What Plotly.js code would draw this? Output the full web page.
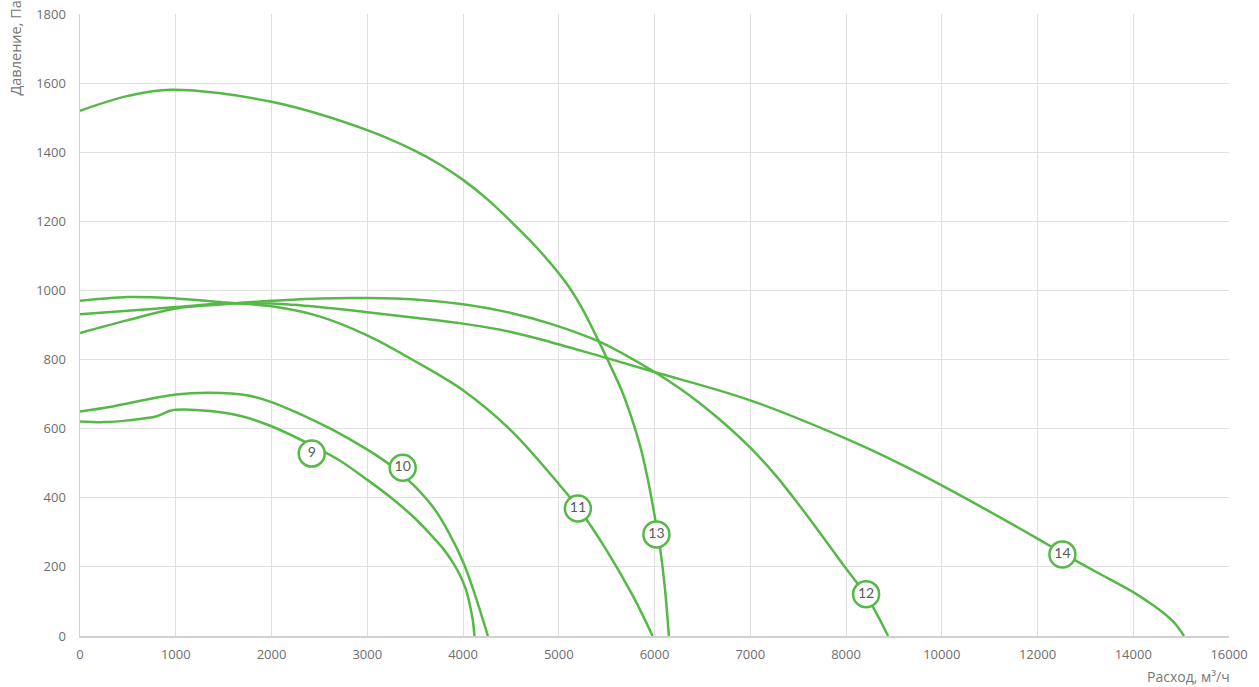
<!DOCTYPE html>
<html>
<head>
<meta charset="utf-8">
<script src="https://cdn.plot.ly/plotly-3.0.1.min.js"></script>
<style>html,body{margin:0;padding:0;background:#fff;}#chart{width:1259px;height:687px;}</style>
</head>
<body>
<div id="chart"></div>
<script>
// Flow, m³/h and pressure, Pa for each curve
const flow9   = [0, 250, 500, 800, 940, 1000, 1360, 1700, 2000, 2420, 2700, 3000, 3250, 3500, 3700, 3800, 3900, 3970, 4030, 4070, 4100, 4120];
const press9  = [621, 619, 624, 636, 652, 655, 651, 635, 607, 552, 510, 452, 400, 340, 282, 250, 210, 175, 135, 92, 50, 0];
const flow10  = [0, 310, 1000, 1360, 1740, 2000, 2300, 2600, 2900, 3100, 3300, 3500, 3700, 3850, 4000, 4100, 4180, 4260];
const press10 = [650, 663, 699, 704, 697, 677, 642, 602, 556, 522, 482, 432, 368, 300, 215, 140, 72, 0];
const flow11  = [0, 500, 1000, 1530, 2000, 2500, 3000, 3500, 4000, 4500, 5000, 5200, 5500, 5780, 5980];
const press11 = [970, 981, 977, 965, 954, 925, 870, 795, 711, 595, 440, 372, 248, 113, 0];
const flow12  = [0, 500, 1000, 1500, 2000, 2500, 3000, 3500, 4000, 4500, 4910, 5430, 6000, 6250, 6500, 6750, 7000, 7250, 7500, 7750, 8000, 8420, 8650, 8880];
const press12 = [877, 914, 948, 960, 970, 977, 978, 974, 960, 935, 904, 851, 764, 719, 668, 610, 545, 470, 383, 290, 195, 118, 62, 0];
const flow13  = [0, 500, 950, 2000, 3000, 3500, 3750, 4000, 4250, 4500, 4750, 5000, 5120, 5250, 5430, 5500, 5655, 5750, 5850, 5925, 6000, 6060, 6110, 6150];
const press13 = [1520, 1563, 1581, 1546, 1464, 1404, 1366, 1320, 1265, 1200, 1130, 1050, 1005, 945, 846, 805, 712, 640, 550, 460, 350, 250, 135, 0];
const flow14  = [0, 500, 1000, 1500, 2000, 2500, 3000, 3500, 4000, 4500, 4910, 5430, 6000, 7000, 8000, 9120, 10000, 12000, 12520, 13220, 14000, 14300, 14620, 14860, 15060];
const press14 = [931, 941, 952, 962, 962, 952, 937, 921, 904, 880, 851, 810, 764, 682, 571, 499, 436, 282, 240, 186, 127, 100, 68, 38, 0];

// Curve labels
const labelText  = ["9", "10", "11", "12", "13", "14"];
const labelFlow  = [2420, 3370, 5200, 8420, 6020, 12520];
const labelPress = [528, 487, 369, 121, 294, 236];

// Axis ticks
const tickFlow   = [0, 1000, 2000, 3000, 4000, 5000, 6000, 7000, 8000, 10000, 12000, 14000, 16000];
const tickLabels = ["0", "1000", "2000", "3000", "4000", "5000", "6000", "7000", "8000", "10000", "12000", "14000", "16000"];
const yTicks     = [0, 200, 400, 600, 800, 1000, 1200, 1400, 1600, 1800];

// Axis is linear to 8000, then each grid step is 2000
function toAxis(q) { return q <= 8000 ? q / 1000 : 8 + (q - 8000) / 2000; }

const green = "#56b847";
const series = [[flow9, press9], [flow10, press10], [flow11, press11], [flow12, press12], [flow13, press13], [flow14, press14]];
const traces = series.map(s => ({
  x: s[0].map(toAxis), y: s[1], type: "scatter", mode: "lines",
  line: { color: green, width: 2.5, shape: "spline", smoothing: 1 },
  hoverinfo: "skip", showlegend: false
}));
traces.push({
  x: labelFlow.map(toAxis), y: labelPress, text: labelText, type: "scatter", mode: "markers+text",
  textposition: "middle center",
  textfont: { family: "Lato, 'Open Sans', sans-serif", size: 14, color: "#5a5a5a" },
  marker: { size: 26, color: "#ffffff", line: { color: green, width: 2.5 } },
  hoverinfo: "skip", showlegend: false, cliponaxis: false
});

const layout = {
  width: 1259, height: 687,
  margin: { l: 80, r: 30, t: 14, b: 51 },
  paper_bgcolor: "#fff", plot_bgcolor: "#fff",
  font: { family: "'Open Sans', sans-serif", color: "#6e6e6e", size: 13 },
  xaxis: {
    range: [0, 12], tickvals: tickFlow.map(toAxis), ticktext: tickLabels,
    showgrid: true, gridcolor: "#e0e0e0", gridwidth: 1, zeroline: false,
    showline: true, linecolor: "#d0d0d0", linewidth: 1.5, ticks: "", ticklabelstandoff: 6,
    tickfont: { size: 13, color: "#6e6e6e" }, fixedrange: true
  },
  yaxis: {
    range: [0, 1800], tickvals: yTicks,
    showgrid: true, gridcolor: "#e0e0e0", gridwidth: 1, zeroline: false,
    showline: true, linecolor: "#d0d0d0", linewidth: 1.5, ticks: "", ticklabelstandoff: 10,
    tickfont: { size: 13, color: "#6e6e6e" }, fixedrange: true
  },
  annotations: [
    { text: "Давление, Па", xref: "paper", yref: "paper", x: -0.056, y: 1.025, xanchor: "center", yanchor: "top",
      textangle: -90, showarrow: false, font: { size: 14.5, color: "#777" } },
    { text: "Расход, м³/ч", xref: "paper", yref: "paper", x: 1.003, y: -0.046, xanchor: "right", yanchor: "top",
      showarrow: false, font: { size: 14, color: "#777" } }
  ]
};

Plotly.newPlot("chart", traces, layout, { displayModeBar: false, staticPlot: true });
</script>
</body>
</html>
